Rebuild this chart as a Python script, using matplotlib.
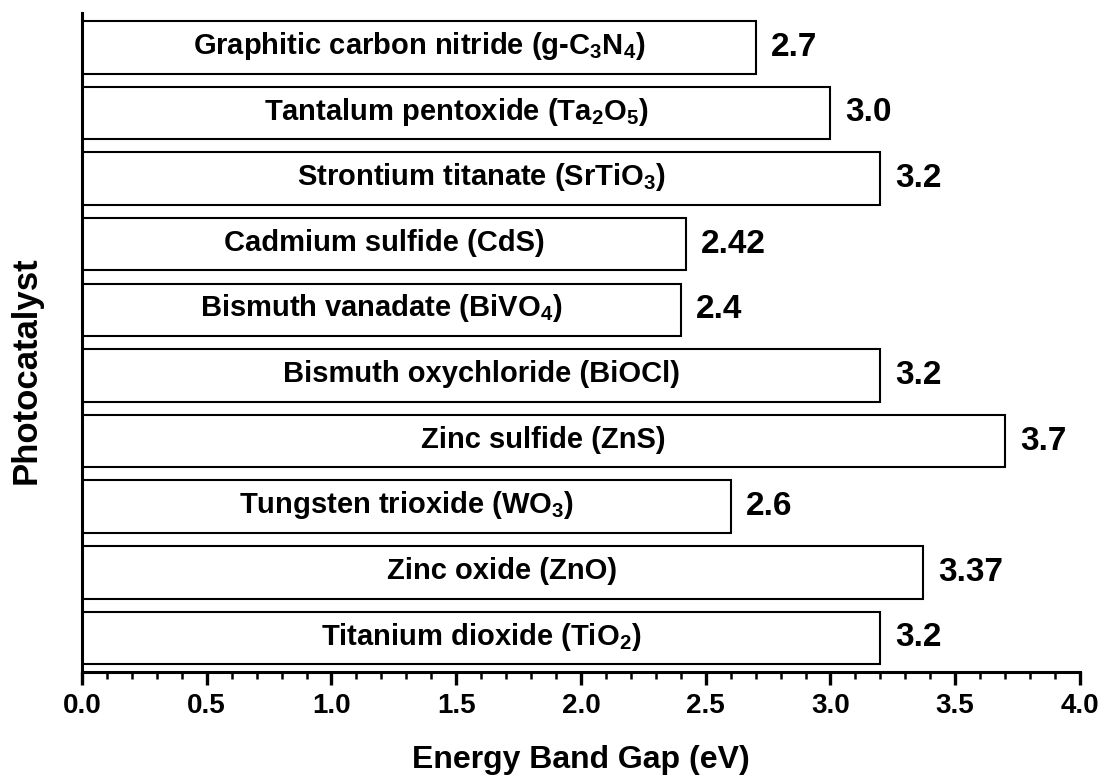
import matplotlib
matplotlib.use("Agg")
import matplotlib.pyplot as plt
from matplotlib.ticker import MultipleLocator, FormatStrFormatter

plt.rcParams['font.family'] = ['Liberation Sans', 'DejaVu Sans']
plt.rcParams['font.weight'] = 'bold'
plt.rcParams['mathtext.fontset'] = 'custom'
plt.rcParams['mathtext.rm'] = 'Liberation Sans:bold'
plt.rcParams['mathtext.bf'] = 'Liberation Sans:bold'
plt.rcParams['mathtext.it'] = 'Liberation Sans:bold'
plt.rcParams['mathtext.default'] = 'bf'

# bottom to top
names = [
    r"Titanium dioxide (TiO$_2$)",
    r"Zinc oxide (ZnO)",
    r"Tungsten trioxide (WO$_3$)",
    r"Zinc sulfide (ZnS)",
    r"Bismuth oxychloride (BiOCl)",
    r"Bismuth vanadate (BiVO$_4$)",
    r"Cadmium sulfide (CdS)",
    r"Strontium titanate (SrTiO$_3$)",
    r"Tantalum pentoxide (Ta$_2$O$_5$)",
    r"Graphitic carbon nitride (g-C$_3$N$_4$)",
]
values = [3.2, 3.37, 2.6, 3.7, 3.2, 2.4, 2.42, 3.2, 3.0, 2.7]
value_labels = ["3.2", "3.37", "2.6", "3.7", "3.2", "2.4", "2.42", "3.2", "3.0", "2.7"]

fig = plt.figure(figsize=(11.02, 7.76), dpi=100)
ax = fig.add_axes([0.0744, 0.134, 0.9056, 0.849])

pos = list(range(len(values)))
ax.barh(pos, values, height=0.8, color='white', edgecolor='black', linewidth=1.5)

for p, v, n, lab in zip(pos, values, names, value_labels):
    ax.text(v / 2, p + 0.02, n, ha='center', va='center', fontsize=21, fontweight='bold')
    ax.text(v + 0.06, p, lab, ha='left', va='center', fontsize=24, fontweight='bold')

ax.set_xlim(0, 4.0)
ax.set_ylim(-0.52, 9.52)
ax.xaxis.set_major_locator(MultipleLocator(0.5))
ax.xaxis.set_minor_locator(MultipleLocator(0.1))
ax.xaxis.set_major_formatter(FormatStrFormatter('%.1f'))
ax.set_yticks([])

for s in ['top', 'right']:
    ax.spines[s].set_visible(False)
ax.spines['left'].set_linewidth(2.2)
ax.spines['bottom'].set_linewidth(2.2)
ax.tick_params(axis='x', which='major', direction='out', length=9, width=2.4, labelsize=20, pad=6)
ax.tick_params(axis='x', which='minor', direction='out', length=5, width=1.8)
for t in ax.get_xticklabels():
    t.set_fontweight('bold')

ax.set_xlabel("Energy Band Gap (eV)", fontsize=23, fontweight='bold', labelpad=19)
ax.set_ylabel("Photocatalyst", fontsize=25, fontweight='bold')
ax.yaxis.set_label_coords(-0.039, 0.458)

fig.savefig("out.png", dpi=100)
